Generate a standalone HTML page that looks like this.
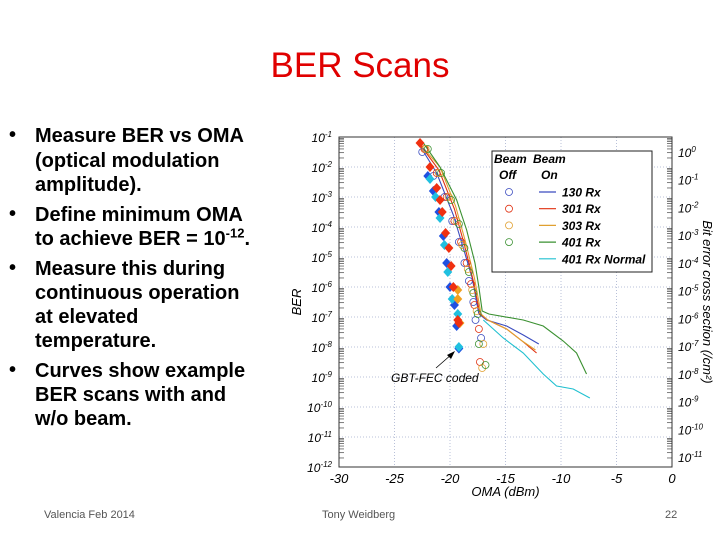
<!DOCTYPE html>
<html><head><meta charset="utf-8"><style>
body{margin:0;width:720px;height:540px;background:#fff;position:relative;overflow:hidden;font-family:"Liberation Sans",sans-serif}
.t{position:absolute;font-weight:bold;font-size:20px;color:#000;white-space:nowrap;line-height:24px}
.b{position:absolute;font-size:20px;font-weight:bold;left:9px}
.f{position:absolute;font-size:11px;color:#555;top:509px}
</style></head><body>
<div style="position:absolute;left:0;width:720px;top:46px;text-align:center;color:#e00000;font-size:35px;">BER Scans</div>
<div>
<div class="b" style="top:124px">•</div>
<div class="t" style="left:35px;top:124px">Measure BER vs OMA</div>
<div class="t" style="left:35px;top:149px">(optical modulation</div>
<div class="t" style="left:35px;top:173px">amplitude).</div>
<div class="b" style="top:203px">•</div>
<div class="t" style="left:35px;top:203px">Define minimum OMA</div>
<div class="t" style="left:35px;top:227px">to achieve BER = 10<sup style="font-size:13px;line-height:0">-12</sup>.</div>
<div class="b" style="top:257px">•</div>
<div class="t" style="left:35px;top:257px">Measure this during</div>
<div class="t" style="left:35px;top:281px">continuous operation</div>
<div class="t" style="left:35px;top:305px">at elevated</div>
<div class="t" style="left:35px;top:329px">temperature.</div>
<div class="b" style="top:359px">•</div>
<div class="t" style="left:35px;top:359px">Curves show example</div>
<div class="t" style="left:35px;top:383px">BER scans with and</div>
<div class="t" style="left:35px;top:407px">w/o beam.</div>
</div>
<div class="f" style="left:44px">Valencia Feb 2014</div>
<div class="f" style="left:322px">Tony Weidberg</div>
<div class="f" style="left:665px">22</div>
<svg id="ch" width="720" height="540" style="position:absolute;left:0;top:0" xmlns="http://www.w3.org/2000/svg"></svg>
<script>
const xTicks=[-30,-25,-20,-15,-10,-5,0];
const yDecades=[-1,-2,-3,-4,-5,-6,-7,-8,-9,-10,-11,-12];
const rDecades=[0,-1,-2,-3,-4,-5,-6,-7,-8,-9,-10,-11];
const lineNames=["130 Rx","301 Rx","303 Rx","401 Rx","401 Rx Normal"];
const lineColors=["#3a4bbf","#e03010","#e0a030","#3a9030","#20c0d0"];
const line130=[[-22.7,-1.3],[-21.2,-2.2],[-19.7,-3.6],[-18.8,-4.7],[-18.0,-5.7],[-17.4,-6.9],[-16.7,-7.1],[-14.9,-7.3],[-13.4,-7.6],[-12.0,-7.9]];
const line301=[[-22.8,-1.2],[-21.0,-2.1],[-19.6,-3.4],[-18.7,-4.6],[-17.9,-5.8],[-17.3,-6.9],[-16.6,-7.1],[-14.9,-7.4],[-13.5,-7.8],[-12.2,-8.2]];
const line303=[[-22.8,-1.2],[-20.9,-2.0],[-19.5,-3.3],[-18.6,-4.5],[-17.8,-5.7],[-17.2,-6.9],[-16.6,-7.1],[-14.9,-7.4],[-13.5,-7.8],[-12.3,-8.1]];
const line401=[[-22.4,-1.2],[-20.9,-2.0],[-19.4,-3.1],[-18.5,-4.1],[-17.75,-5.2],[-17.4,-6.0],[-17.1,-6.8],[-16.5,-6.9],[-13.4,-7.1],[-11.6,-7.3],[-9.8,-7.8],[-8.6,-8.2],[-7.7,-8.9]];
const line401N=[[-17.0,-7.1],[-15.2,-7.7],[-13.4,-8.2],[-11.6,-8.9],[-10.4,-9.3],[-8.9,-9.4],[-7.4,-9.7]];
const circBlue=[[-22.5,-1.5],[-21.5,-2.3],[-20.5,-3.0],[-19.8,-3.8],[-19.2,-4.5],[-18.7,-5.2],[-18.3,-5.8],[-17.9,-6.5],[-17.7,-7.1],[-17.2,-7.7]];
const circRed=[[-22.3,-1.4],[-21.2,-2.2],[-20.3,-3.0],[-19.6,-3.8],[-19.0,-4.5],[-18.5,-5.2],[-18.1,-5.9],[-17.8,-6.6],[-17.4,-7.4],[-17.3,-8.5]];
const circOrange=[[-22.2,-1.4],[-21.0,-2.2],[-20.1,-3.0],[-19.4,-3.8],[-18.9,-4.6],[-18.4,-5.4],[-18.0,-6.1],[-17.6,-6.8],[-17.0,-7.9],[-17.1,-8.7]];
const circGreen=[[-22.0,-1.4],[-20.8,-2.2],[-19.9,-3.1],[-19.2,-3.9],[-18.7,-4.7],[-18.3,-5.5],[-17.9,-6.2],[-17.5,-6.9],[-17.4,-7.9],[-16.8,-8.6]];
const diaRed=[[-22.7,-1.2],[-21.8,-2.0],[-21.2,-2.7],[-20.9,-3.1],[-20.7,-3.5],[-20.4,-4.2],[-20.1,-4.7],[-19.9,-5.3],[-19.7,-6.0],[-19.3,-7.1],[-19.2,-7.2]];
const diaBlue=[[-22.0,-2.3],[-21.5,-2.8],[-21.0,-3.5],[-20.6,-4.3],[-20.3,-5.2],[-20.0,-6.0],[-19.6,-6.6],[-19.4,-7.3],[-19.2,-8.05]];
const diaCyan=[[-21.8,-2.4],[-21.3,-3.0],[-20.9,-3.7],[-20.5,-4.6],[-20.2,-5.5],[-19.8,-6.4],[-19.3,-6.9],[-19.2,-8.0]];
const diaOrange=[[-19.3,-6.1],[-19.3,-6.4],[-19.1,-7.2]];

const NS="http://www.w3.org/2000/svg",svg=document.getElementById('ch');
const X0=339,X1=672,Y0=137,Y1=467;
const xs=v=>X0+(v+30)/30*(X1-X0);
const ys=l=>Y0+(-1-l)/11*(Y1-Y0);
const yr=l=>152+(0-l)/11*(457-152);
function mk(t,a,p){const e=document.createElementNS(NS,t);for(const k in a)e.setAttribute(k,a[k]);(p||svg).appendChild(e);return e;}
// grid
const g=mk('g',{});


xTicks.forEach(v=>mk('line',{x1:xs(v),x2:xs(v),y1:Y0,y2:Y1,stroke:'#b8c0d8','stroke-dasharray':'1,2'},g));
yDecades.forEach(l=>mk('line',{x1:X0,x2:X1,y1:ys(l),y2:ys(l),stroke:'#b8c0d8','stroke-dasharray':'1,2'},g));
// minor ticks
yDecades.forEach(l=>{if(l>-12)for(let k=2;k<10;k++){const y=ys(l-1+Math.log10(k));mk('line',{x1:X0,x2:X0+5,y1:y,y2:y,stroke:'#444','stroke-width':0.7});mk('line',{x1:X1-5,x2:X1,y1:y,y2:y,stroke:'#444','stroke-width':0.7});}});
const frame=mk('rect',{x:X0,y:Y0,width:X1-X0,height:Y1-Y0,fill:'none',stroke:'#333'});


// tick labels
function sup(x,y,l,anchor,name){const t=mk('text',{x:x,y:y,'font-size':12,'font-style':'italic','text-anchor':anchor});
 const a=mk('tspan',{},t);a.textContent='10';const b=mk('tspan',{dy:-5,'font-size':8},t);b.textContent=String(l);}
yDecades.forEach(l=>sup(X0-7,ys(l)+5,l,'end','y-tick-label'));
rDecades.forEach(l=>sup(X1+6,yr(l)+5,l,'start','right-tick-label'));
xTicks.forEach(v=>{const t=mk('text',{x:xs(v),y:Y1+16,'font-size':13,'font-style':'italic','text-anchor':'middle'});t.textContent=String(v);

});
let t=mk('text',{x:(X0+X1)/2,y:496,'font-size':13,'font-style':'italic','text-anchor':'middle'});t.textContent='OMA (dBm)';


t=mk('text',{x:0,y:0,'font-size':13,'font-style':'italic','text-anchor':'middle',transform:'translate(301,302) rotate(-90)'});t.textContent='BER';


t=mk('text',{x:0,y:0,'font-size':13,'font-style':'italic','text-anchor':'middle',transform:'translate(703,302) rotate(90)'});t.textContent='Bit error cross section (/cm²)';


// lines
const lines=[line130,line301,line303,line401,line401N];
lines.forEach((d,i)=>{const p=mk('polyline',{points:d.map(q=>xs(q[0])+','+ys(q[1])).join(' '),fill:'none',stroke:lineColors[i],'stroke-width':1.1});

});
// circles
[[circBlue,lineColors[0]],[circRed,lineColors[1]],[circOrange,lineColors[2]],[circGreen,lineColors[3]]].forEach(([d,c])=>d.forEach(q=>{const e=mk('circle',{cx:xs(q[0]),cy:ys(q[1]),r:3.5,fill:'none',stroke:c,'stroke-width':0.8});

}));
// diamonds
[[diaBlue,'#2050e0'],[diaCyan,'#20c0e0'],[diaOrange,'#f0a020'],[diaRed,'#f03010']].forEach(([d,c])=>d.forEach(q=>{const x=xs(q[0]),y=ys(q[1]);const e=mk('polygon',{points:`${x},${y-5} ${x+4.5},${y} ${x},${y+5} ${x-4.5},${y}`,fill:c});

}));
// annotation
t=mk('text',{x:391,y:382,'font-size':12,'font-style':'italic'});t.textContent='GBT-FEC coded';


mk('line',{x1:436,y1:368,x2:452,y2:354,stroke:'#000','stroke-width':0.8});
mk('polygon',{points:'455,351 447,355 451,359',fill:'#000'});
// legend
const lg=mk('g',{});


mk('rect',{x:492,y:151,width:160,height:121,fill:'#fff',stroke:'#222'},lg);
[['Beam',494,163],['Beam',533,163],['Off',499,179],['On',541,179]].forEach(a=>{const e=mk('text',{x:a[1],y:a[2],'font-size':12,'font-style':'italic','font-weight':'bold'},lg);e.textContent=a[0];});
lineNames.forEach((n,i)=>{const y=192+i*16.7;
 if(i<4)mk('circle',{cx:509,cy:y,r:3.5,fill:'none',stroke:lineColors[i],'stroke-width':0.8},lg);
 mk('line',{x1:539,x2:556,y1:y,y2:y,stroke:lineColors[i],'stroke-width':1.2},lg);
 const e=mk('text',{x:562,y:y+4.5,'font-size':12,'font-style':'italic','font-weight':'bold'},lg);e.textContent=n;
 
 });
</script>
</body></html>
